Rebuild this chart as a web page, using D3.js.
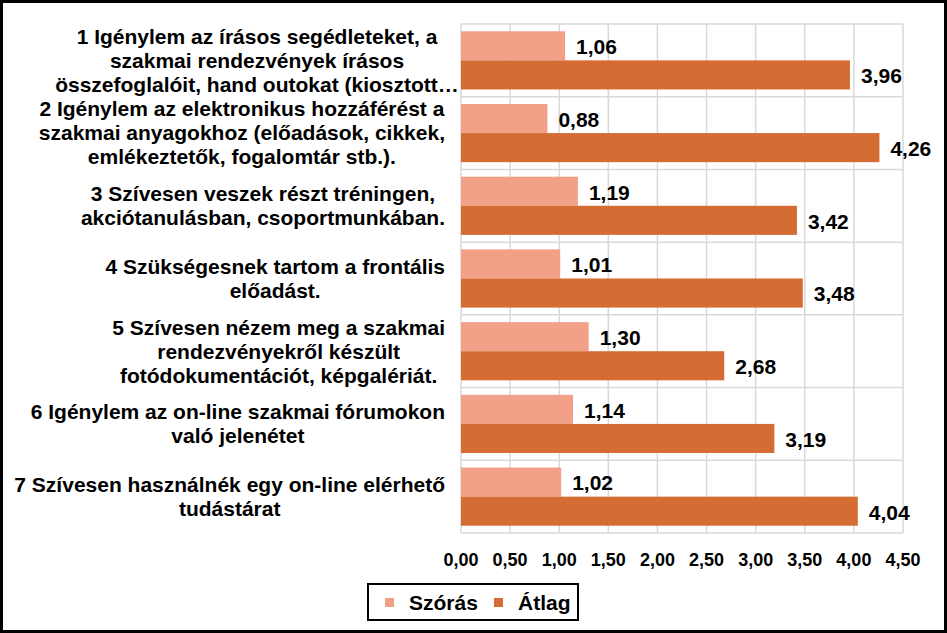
<!DOCTYPE html>
<html>
<head>
<meta charset="utf-8">
<script src="https://d3js.org/d3.v7.min.js"></script>
<style>
  body { margin: 0; background: white; }
  text { font-family: Arial, "Liberation Sans", sans-serif; font-weight: bold; fill: #000; }
</style>
</head>
<body>
<div id="my_dataviz"></div>
<script>
// category labels (already wrapped as in the original)
var categories = [
  ["1 Igénylem az írásos segédleteket, a", "szakmai rendezvények írásos", "összefoglalóit, hand outokat (kiosztott…"],
  ["2 Igénylem az elektronikus hozzáférést a", "szakmai anyagokhoz (előadások, cikkek,", "emlékeztetők, fogalomtár stb.)."],
  ["3 Szívesen veszek részt tréningen,", "akciótanulásban, csoportmunkában."],
  ["4 Szükségesnek tartom a frontális", "előadást."],
  ["5 Szívesen nézem meg a szakmai", "rendezvényekről készült", "fotódokumentációt, képgalériát."],
  ["6 Igénylem az on-line szakmai fórumokon", "való jelenétet"],
  ["7 Szívesen használnék egy on-line elérhető", "tudástárat"]
];
var seriesNames = ["Szórás", "Átlag"];
var szoras = [1.06, 0.88, 1.19, 1.01, 1.30, 1.14, 1.02];
var atlag  = [3.96, 4.26, 3.42, 3.48, 2.68, 3.19, 4.04];
var xTicks = [0, 0.5, 1, 1.5, 2, 2.5, 3, 3.5, 4, 4.5];

var colors = { "Szórás": "#F2A088", "Átlag": "#D46C34" };

var W = 947, H = 633;
var plot = { left: 461, right: 903, top: 24, bottom: 533 };

var svg = d3.select("#my_dataviz").append("svg")
  .attr("width", W).attr("height", H);

svg.append("rect").attr("x", 1.5).attr("y", 1.5)
  .attr("width", W - 3).attr("height", H - 3)
  .attr("fill", "white").attr("stroke", "#000").attr("stroke-width", 3);

var x = d3.scaleLinear().domain([0, 4.5]).range([plot.left, plot.right]);
var y = d3.scaleBand().domain(d3.range(categories.length))
  .range([plot.top, plot.bottom]).padding(0);
var ySub = d3.scaleBand().domain(seriesNames)
  .range([0, y.bandwidth()]).paddingInner(0).paddingOuter(0.25);

var fmt = function (v) { return d3.format(".2f")(v).replace(".", ","); };

// grid
var grid = svg.append("g");
grid.selectAll("line.v").data(xTicks).enter().append("line")
  .attr("x1", d => x(d)).attr("x2", d => x(d))
  .attr("y1", plot.top).attr("y2", plot.bottom)
  .attr("stroke", "#D9D9D9").attr("stroke-width", 1.5);
grid.selectAll("line.h").data(d3.range(categories.length + 1)).enter().append("line")
  .attr("x1", plot.left).attr("x2", plot.right)
  .attr("y1", d => plot.top + d * y.step()).attr("y2", d => plot.top + d * y.step())
  .attr("stroke", "#D9D9D9").attr("stroke-width", 1.5);

// bars
var rows = categories.map(function (c, i) {
  return [{ key: "Szórás", v: szoras[i], i: i }, { key: "Átlag", v: atlag[i], i: i }];
});
var g = svg.append("g");
var groups = g.selectAll("g.cat").data(rows).enter().append("g")
  .attr("transform", (d, i) => "translate(0," + y(i) + ")");
groups.selectAll("rect").data(d => d).enter().append("rect")
  .attr("x", x(0))
  .attr("y", d => ySub(d.key))
  .attr("width", d => x(d.v) - x(0))
  .attr("height", ySub.bandwidth())
  .attr("fill", d => colors[d.key]);
groups.selectAll("text").data(d => d).enter().append("text")
  .attr("x", d => x(d.v) + 11)
  .attr("y", d => ySub(d.key) + ySub.bandwidth() / 2 + 1)
  .attr("dy", "0.35em")
  .style("font-size", "21px")
  .text(d => fmt(d.v));

// x axis labels
svg.append("g").selectAll("text").data(xTicks).enter().append("text")
  .attr("x", d => x(d)).attr("y", 560).attr("dy", "0.35em")
  .attr("text-anchor", "middle").style("font-size", "18px")
  .text(fmt);

// category labels: lines centered within block, block right-aligned
var labelRight = 445, lineH = 24;
categories.forEach(function (lines, i) {
  var t = svg.append("text").style("font-size", "21px").attr("text-anchor", "middle");
  var spans = lines.map(function (l) { return t.append("tspan").text(l); });
  var maxW = d3.max(spans, s => s.node().getComputedTextLength());
  var cx = labelRight - maxW / 2;
  if (i === 0) cx = 257;
  var cy = y(i) + y.bandwidth() / 2;
  var y0 = cy - (lines.length - 1) * lineH / 2;
  spans.forEach(function (s, k) {
    s.attr("x", cx).attr("y", y0 + k * lineH).attr("dy", "0.35em");
  });
});

// legend
var leg = svg.append("g");
leg.append("rect").attr("x", 368).attr("y", 584).attr("width", 210).attr("height", 36)
  .attr("fill", "white").attr("stroke", "#000").attr("stroke-width", 2);
var legX = [385, 494];
seriesNames.forEach(function (s, i) {
  leg.append("rect").attr("x", legX[i]).attr("y", 598).attr("width", 9).attr("height", 9)
    .attr("fill", colors[s]);
  leg.append("text").attr("x", legX[i] + 24).attr("y", 603).attr("dy", "0.35em")
    .style("font-size", "21px").text(s);
});
</script>
</body>
</html>
